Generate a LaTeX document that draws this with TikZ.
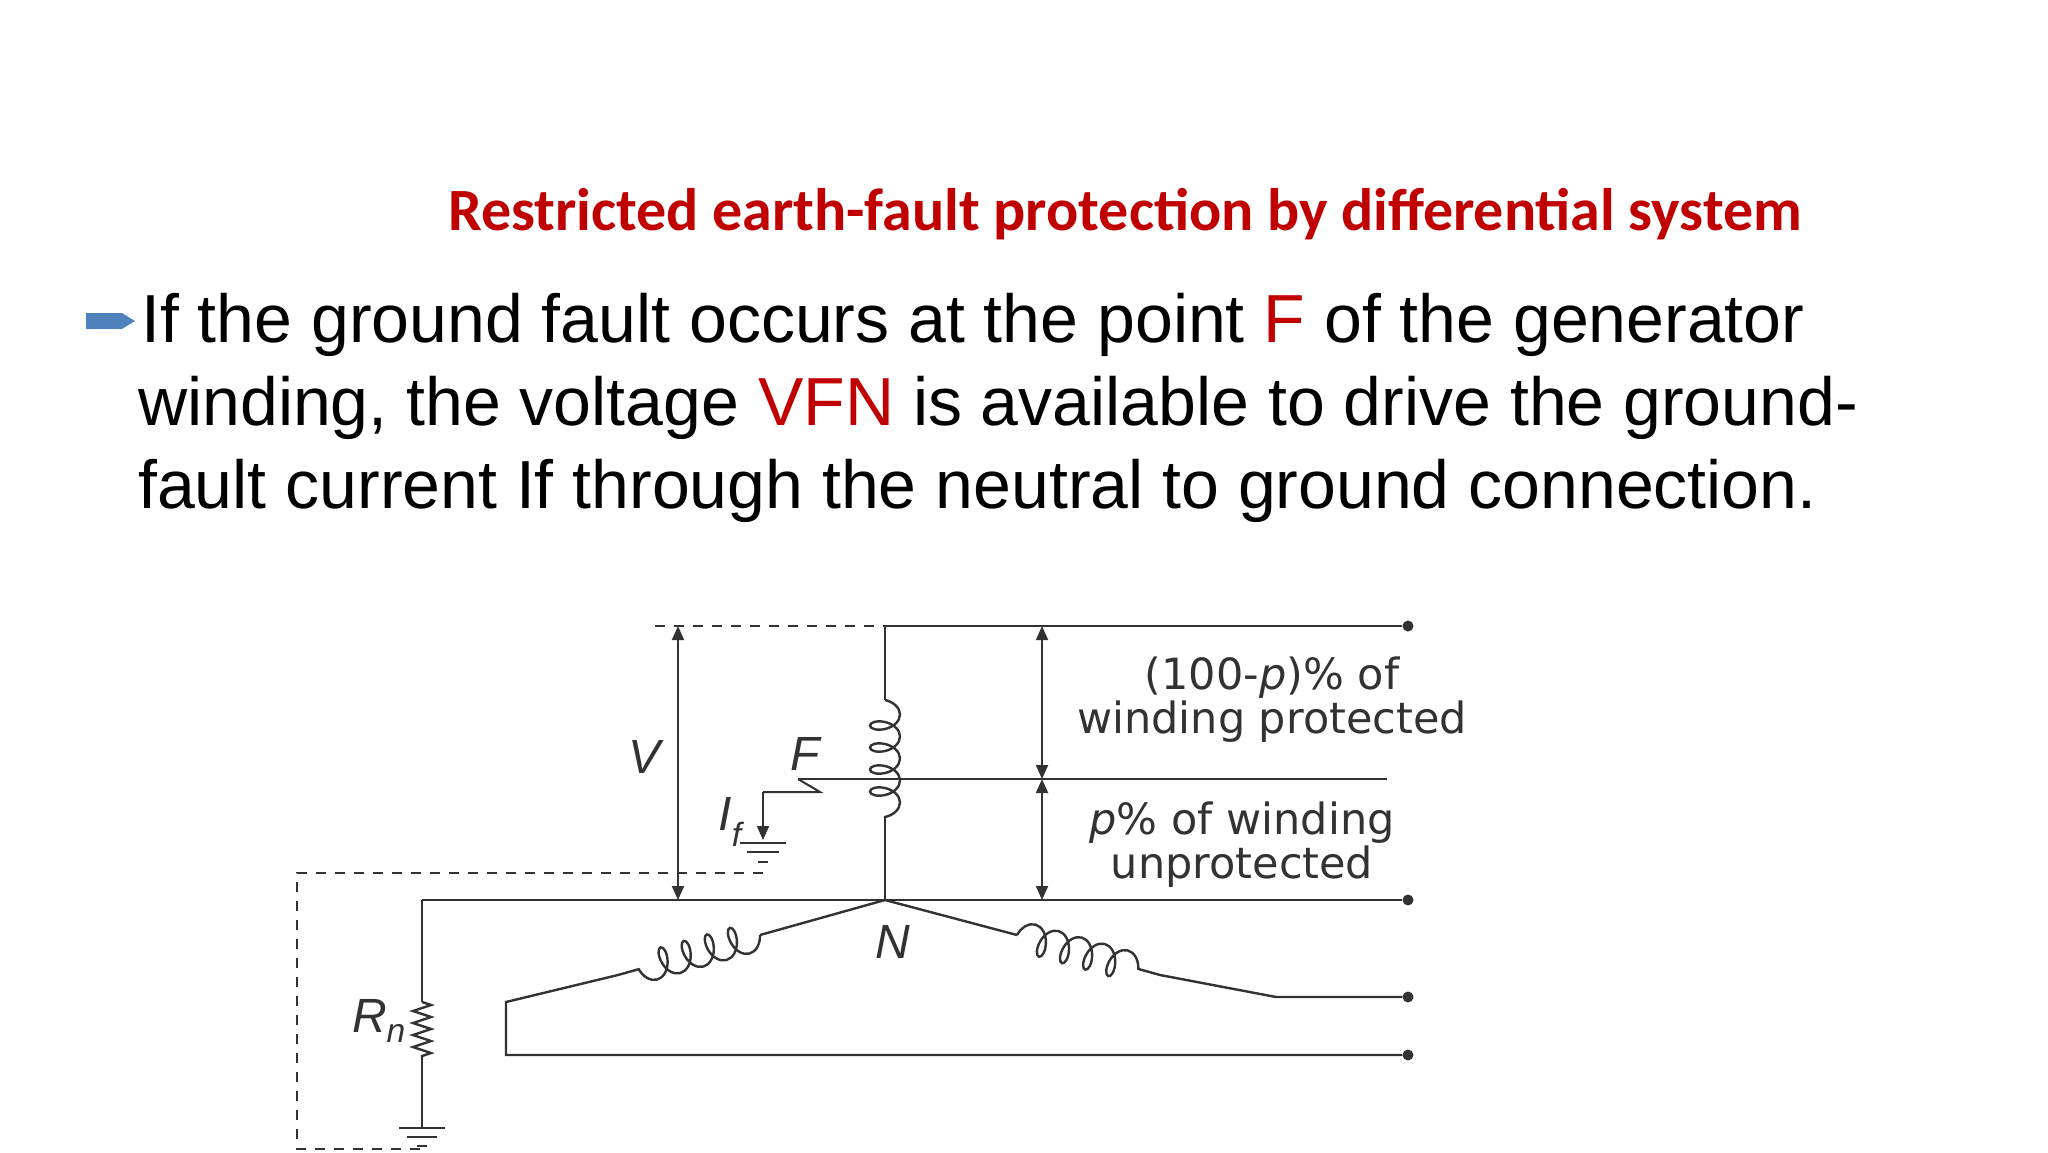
\documentclass[tikz,border=0pt]{standalone}
\usepackage{fontspec}
\setmainfont{Liberation Sans}
\newfontfamily\titlefont{Carlito}
\newfontfamily\labfont{DejaVu Sans}
\usetikzlibrary{arrows.meta,decorations.pathmorphing}
\definecolor{tred}{RGB}{192,0,0}
\definecolor{bul}{RGB}{79,129,189}
\definecolor{wire}{RGB}{50,50,50}
\begin{document}
\begin{tikzpicture}[x=1pt,y=-1pt,
  w/.style={draw=wire,line width=2.4pt},
  dsh/.style={draw=wire,line width=2pt,dash pattern=on 10pt off 9pt},
  arr/.style={draw=wire,line width=2pt,{Triangle[length=14pt,width=12pt]}-{Triangle[length=14pt,width=12pt]}},
  arrd/.style={draw=wire,line width=2pt,-{Triangle[length=14pt,width=12pt]}},
  dotn/.style={circle,fill=wire,inner sep=0pt,minimum size=11pt},
  lab/.style={text=wire,font=\labfont\fontsize{43}{44}\selectfont,align=center},
  ilab/.style={text=wire,font=\fontsize{48}{50}\selectfont\itshape},
  coilv/.style={w,decorate,decoration={coil,aspect=0.6,amplitude=15pt,segment length=22pt}},
]
\useasboundingbox (0,0) rectangle (2048,1152);
\fill[white] (0,0) rectangle (2048,1152);
% title
\node[anchor=base west,inner sep=0,text=tred,font=\titlefont\bfseries\fontsize{60}{70}\selectfont] (title) at (448,230) {Restricted earth-fault protection by differential system};
% bullet
\fill[bul] (86,313) -- (122,313) -- (135,321) -- (122,329) -- (86,329) -- cycle;
\node[anchor=base west,inner sep=0,font=\fontsize{68}{83}\selectfont] (l1) at (141,342) {If the ground fault occurs at the point \textcolor{tred}{F} of the generator};
\node[anchor=base west,inner sep=0,font=\fontsize{68}{83}\selectfont] (l2) at (138,425) {winding, the voltage \textcolor{tred}{VFN} is available to drive the ground-};
\node[anchor=base west,inner sep=0,font=\fontsize{68}{83}\selectfont] (l3) at (138,508) {fault current If through the neutral to ground connection.};
% coordinates
\coordinate (T0) at (655,626); \coordinate (T1) at (885,626); \coordinate (Td) at (1408,626);
\coordinate (N) at (885,900);
\coordinate (Ca) at (885,700); \coordinate (Cb) at (885,818);
\coordinate (Fr) at (1387,779); \coordinate (Fl) at (798,779);
\coordinate (Nd) at (1408,900); \coordinate (Nl) at (422,900);
\coordinate (Rt) at (422,1002); \coordinate (Rb) at (422,1058); \coordinate (G2) at (422,1128);
\node[dotn] (d1) at (Td) {}; \node[dotn] (d2) at (Nd) {};
\node[dotn] (d3) at (1408,997) {}; \node[dotn] (d4) at (1408,1055) {};
% top line
\draw[dsh] (T0) -- (T1);
\draw[w] (T1) -- (d1);
\draw[w] (T1) -- (Ca);
\draw[coilv] (Ca) -- (Cb);
\draw[w] (Cb) -- (N);
\draw[w] (Fl) -- (Fr);
% fault
\draw[w,line width=2pt] (Fl) -- (820,792) -- (763,792) coordinate (Fg);
\draw[arrd] (Fg) -- (763,840) coordinate (Gf);
\draw[w,line width=2pt] (740,843) -- (786,843) (747,852) -- (779,852) (758,862) -- (768,862);
% neutral line
\draw[w] (Nl) -- (d2);
\draw[w] (Nl) -- (Rt);
\draw[w,decorate,decoration={zigzag,amplitude=9pt,segment length=12pt}] (Rt) -- (Rb);
\draw[w] (Rb) -- (G2);
\draw[w,line width=2pt] (399,1128) -- (445,1128) (407,1137) -- (437,1137) (417,1146) -- (427,1146);
% dashed left loop
\draw[dsh] (763,873) -- (297,873) -- (297,1149) -- (420,1149);
% arrows
\draw[arr] (678,626) -- (678,900);
\draw[arr] (1042,626) -- (1042,779);
\draw[arr] (1042,779) -- (1042,900);
% star windings
\draw[w] (N) -- (760,935) coordinate (L1);
\draw[w,decorate,decoration={coil,aspect=0.6,amplitude=15pt,segment length=24pt}] (L1) -- (618,975) coordinate (L2);
\draw[w] (L2) -- (506,1002) -- (506,1055) -- (d4);
\draw[w] (N) -- (1017,935) coordinate (R1);
\draw[w,decorate,decoration={coil,aspect=0.6,amplitude=15pt,segment length=24pt}] (R1) -- (1160,975) coordinate (R2);
\draw[w] (R2) -- (1276,997) -- (d3);
% labels
\node[lab] (t1) at (1272,700) {(100-\textit{p})\% of\\winding protected};
\node[lab] (t2) at (1242,845) {\textit{p}\% of winding\\unprotected};
\node[ilab] (V) at (645,757) {V};
\node[ilab] (F) at (805,754) {F};
\node[ilab] (If) at (730,822) {I\textsubscript{f}};
\node[ilab] (Nlab) at (893,942) {N};
\node[ilab] (Rn) at (379,1021) {R\textsubscript{n}};
\end{tikzpicture}
\end{document}
